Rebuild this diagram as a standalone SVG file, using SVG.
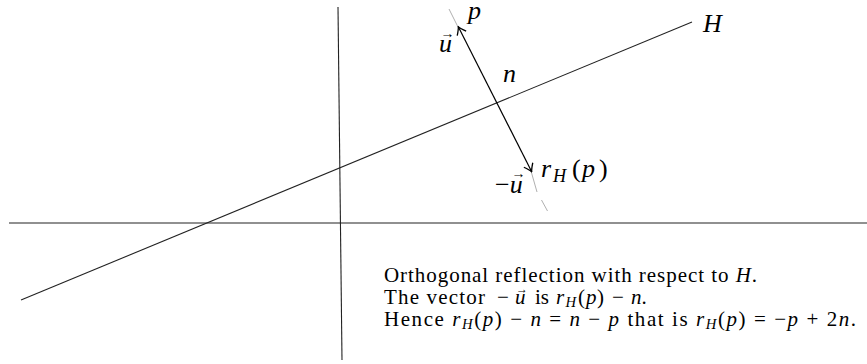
<svg xmlns="http://www.w3.org/2000/svg" width="867" height="364" viewBox="0 0 867 364">
<style>
.ln{stroke:#222;stroke-width:1.1;fill:none}
.gr{stroke:#b0b0b0;stroke-width:1;fill:none}
.ar{stroke:#000;stroke-width:1.2;fill:none}
.lab{font-family:"Liberation Serif","DejaVu Serif",serif;font-size:26px;font-style:italic;fill:#000}
.up{font-style:normal}
.acc{font-family:"Liberation Serif","DejaVu Serif",serif;font-style:normal;fill:#000;text-anchor:middle}
.txt{font-family:"Liberation Serif","DejaVu Serif",serif;font-size:21px;fill:#000}
.it{font-style:italic}
.sub{font-size:0.7em}
</style>
<defs>
<marker id="ah" markerUnits="userSpaceOnUse" viewBox="-9 -6 10 12" refX="0" refY="0" markerWidth="10" markerHeight="12" orient="auto-start-reverse">
<path d="M-7.5,-5 Q-2.5,-1 0,0 Q-2.5,1 -7.5,5" stroke="#000" stroke-width="1.3" fill="none"/>
</marker>
</defs>
<g id="axes">
<line class="ln" x1="338" y1="7" x2="342" y2="360"/>
<line class="ln" x1="9" y1="223" x2="867" y2="223"/>
</g>
<g id="hyperplane">
<line class="ln" x1="21" y1="300" x2="692" y2="22"/>
<text class="lab" x="703" y="32">H</text>
</g>
<g id="connectors">
<path class="gr" d="M449,9 L458,27 M531,171 L537,192 M541.5,200 L547.5,211"/>
<line class="ar" x1="458.3" y1="26.7" x2="531.7" y2="171.7" marker-start="url(#ah)" marker-end="url(#ah)"/>
</g>
<g id="point-p"><text class="lab" x="468" y="19">p</text></g>
<g id="label-u"><text class="lab" x="439" y="52">u</text><text class="acc" x="447.5" y="38" font-size="14">→</text></g>
<g id="point-n"><text class="lab" x="503" y="82">n</text></g>
<g id="label-minus-u"><text class="lab" x="495" y="193"><tspan class="up">−</tspan>u</text><text class="acc" x="518.5" y="178" font-size="14">→</text></g>
<g id="point-rHp"><text class="lab" y="177"><tspan x="541">r</tspan><tspan class="sub" x="553" dy="5">H</tspan><tspan class="up" x="572" dy="-5">(</tspan><tspan x="582">p</tspan><tspan class="up" x="599">)</tspan></text></g>
<g id="caption">
<text class="txt" x="384" y="282" textLength="373" lengthAdjust="spacing">Orthogonal reflection with respect to <tspan class="it">H</tspan>.</text>
<text class="txt" y="304"><tspan x="384" textLength="101" lengthAdjust="spacing">The vector</tspan><tspan x="497">−</tspan><tspan class="it" x="515">u</tspan><tspan x="535">is</tspan><tspan class="it" x="556">r</tspan><tspan class="it sub" x="565.5" dy="3">H</tspan><tspan x="578" dy="-3">(</tspan><tspan class="it" x="586">p</tspan><tspan x="597">)</tspan><tspan x="612">−</tspan><tspan class="it" x="631">n</tspan>.</text>
<text class="acc" x="522" y="293" font-size="12">→</text>
<text class="txt" x="384" y="326" textLength="472" lengthAdjust="spacing">Hence <tspan class="it">r</tspan><tspan class="it sub" dy="3">H</tspan><tspan dy="-3">(</tspan><tspan class="it">p</tspan>) − <tspan class="it">n</tspan> = <tspan class="it">n</tspan> − <tspan class="it">p</tspan> that is <tspan class="it">r</tspan><tspan class="it sub" dy="3">H</tspan><tspan dy="-3">(</tspan><tspan class="it">p</tspan>) = −<tspan class="it">p</tspan> + 2<tspan class="it">n</tspan>.</text>
</g>
</svg>
